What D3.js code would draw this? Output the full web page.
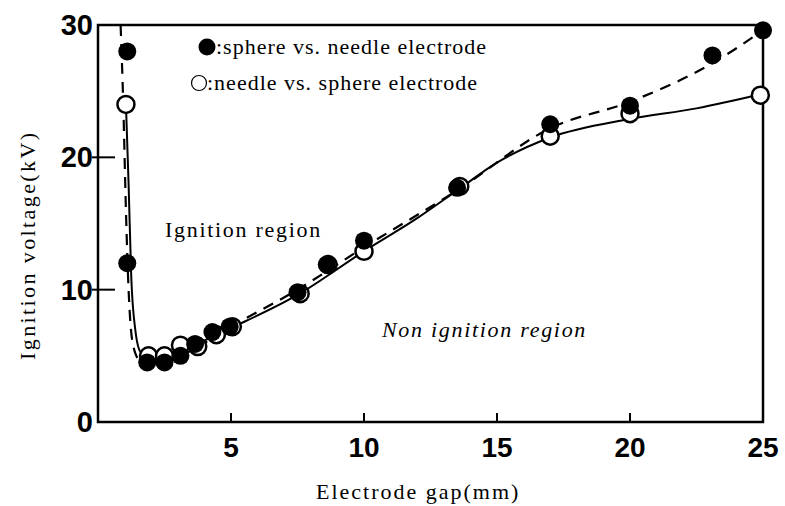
<!DOCTYPE html>
<html><head><meta charset="utf-8">
<script src="https://cdn.jsdelivr.net/npm/d3@7"></script>
<style>body{margin:0;background:#fff}</style>
</head><body><svg id="c" width="785" height="506"></svg>
<script>
const xTicks = [5, 10, 15, 20, 25];
const yTicks = [0, 10, 20, 30];
// filled: sphere vs. needle electrode
const sphereGap = [1.1, 1.1, 1.85, 2.5, 3.1, 3.65, 4.3, 4.95, 7.5, 8.6, 10, 13.5, 17, 20, 23.1, 25];
const sphereV   = [28.0, 12.0, 4.5, 4.5, 5.0, 5.9, 6.8, 7.2, 9.8, 11.9, 13.7, 17.7, 22.5, 23.9, 27.7, 29.6];
// open: needle vs. sphere electrode
const needleGap = [1.05, 1.9, 2.5, 3.1, 3.75, 4.45, 5.05, 7.6, 8.65, 10, 13.6, 17, 20, 24.9];
const needleV   = [24.0, 5.0, 5.0, 5.8, 5.7, 6.6, 7.2, 9.7, 11.9, 12.9, 17.8, 21.6, 23.3, 24.7];
// fitted curves drawn in the figure
const dashGap = [0.85, 0.95, 1.05, 1.15, 1.3, 1.55, 1.9, 2.6, 3.5, 5, 7.5, 10, 13.5, 17, 20, 23, 25];
const dashV   = [30, 24, 16, 10, 6, 4.7, 4.5, 4.6, 5.4, 7.2, 10.0, 13.2, 17.5, 22.2, 24.2, 27.0, 29.6];
const solidGap = [1.05, 1.15, 1.25, 1.4, 1.6, 2.0, 2.6, 3.5, 5, 7.5, 10, 12, 13.5, 15, 17, 20, 22.5, 25];
const solidV   = [24, 18, 11, 7, 5.3, 4.9, 4.9, 5.7, 7.1, 9.6, 12.9, 15.4, 17.5, 19.6, 21.5, 22.9, 23.7, 24.8];

const svg = d3.select("#c");
const x = d3.scaleLinear().domain([0, 25]).range([98, 763]);
const y = d3.scaleLinear().domain([0, 30]).range([422, 25]);

// frame
svg.append("rect").attr("x", x(0)).attr("y", y(30)).attr("width", x(25) - x(0)).attr("height", y(0) - y(30))
  .attr("fill", "none").attr("stroke", "#000").attr("stroke-width", 2.5);

// x ticks (inward)
svg.append("g").selectAll("line").data(xTicks.filter(d => d < 25)).join("line")
  .attr("x1", d => x(d)).attr("x2", d => x(d)).attr("y1", y(0)).attr("y2", y(0) - 9)
  .attr("stroke", "#000").attr("stroke-width", 2);
svg.append("g").selectAll("text").data(xTicks).join("text")
  .attr("x", d => x(d)).attr("y", 457).attr("text-anchor", "middle")
  .attr("font-family", "Liberation Sans, Arial, sans-serif").attr("font-weight", "bold").attr("font-size", 28)
  .text(d => d);
// y ticks
svg.append("g").selectAll("line").data(yTicks.filter(d => d > 0 && d < 30)).join("line")
  .attr("x1", x(0) - 6).attr("x2", x(0) + 17).attr("y1", d => y(d)).attr("y2", d => y(d))
  .attr("stroke", "#000").attr("stroke-width", 2);
svg.append("g").selectAll("text").data(yTicks).join("text")
  .attr("x", 93).attr("y", d => y(d) + 10).attr("text-anchor", "end")
  .attr("font-family", "Liberation Sans, Arial, sans-serif").attr("font-weight", "bold").attr("font-size", 29)
  .text(d => d);

// titles
const serif = "Liberation Serif, Times New Roman, serif";
svg.append("text").attr("x", 316).attr("y", 499)
  .attr("font-family", serif).attr("font-size", 22).attr("letter-spacing", 2.0).text("Electrode gap(mm)");
svg.append("text").attr("transform", "translate(35,360) rotate(-90)")
  .attr("font-family", serif).attr("font-size", 22).attr("letter-spacing", 2.4).text("Ignition voltage(kV)");
svg.append("text").attr("x", 165).attr("y", 237).attr("font-family", serif).attr("font-size", 22)
  .attr("letter-spacing", 1.7).text("Ignition region");
svg.append("text").attr("x", 382).attr("y", 337).attr("font-family", serif).attr("font-size", 22)
  .attr("font-style", "italic").attr("letter-spacing", 1.7).text("Non ignition region");

// curves
const line = d3.line().x(d => x(d[0])).y(d => y(d[1])).curve(d3.curveMonotoneX);
svg.append("path").datum(solidGap.map((g, i) => [g, solidV[i]])).attr("d", line)
  .attr("fill", "none").attr("stroke", "#000").attr("stroke-width", 2);
svg.append("path").datum(dashGap.map((g, i) => [g, dashV[i]])).attr("d", line)
  .attr("fill", "none").attr("stroke", "#000").attr("stroke-width", 2.2).attr("stroke-dasharray", "11,8");

// markers
svg.append("g").selectAll("circle").data(needleGap.map((g, i) => [g, needleV[i]])).join("circle")
  .attr("cx", d => x(d[0])).attr("cy", d => y(d[1])).attr("r", 8.5)
  .attr("fill", "#fff").attr("stroke", "#000").attr("stroke-width", 2.5);
svg.append("g").selectAll("circle").data(sphereGap.map((g, i) => [g, sphereV[i]])).join("circle")
  .attr("cx", d => x(d[0])).attr("cy", d => y(d[1])).attr("r", 9).attr("fill", "#000");

// legend
svg.append("circle").attr("cx", 207).attr("cy", 47).attr("r", 8.5).attr("fill", "#000");
svg.append("text").attr("x", 216).attr("y", 54).attr("font-family", serif).attr("font-size", 22)
  .attr("letter-spacing", 1.0).text(":sphere vs. needle electrode");
svg.append("circle").attr("cx", 199).attr("cy", 83).attr("r", 7.5).attr("fill", "#fff")
  .attr("stroke", "#000").attr("stroke-width", 1.2);
svg.append("text").attr("x", 207).attr("y", 90).attr("font-family", serif).attr("font-size", 22)
  .attr("letter-spacing", 1.0).text(":needle vs. sphere electrode");
</script></body></html>
